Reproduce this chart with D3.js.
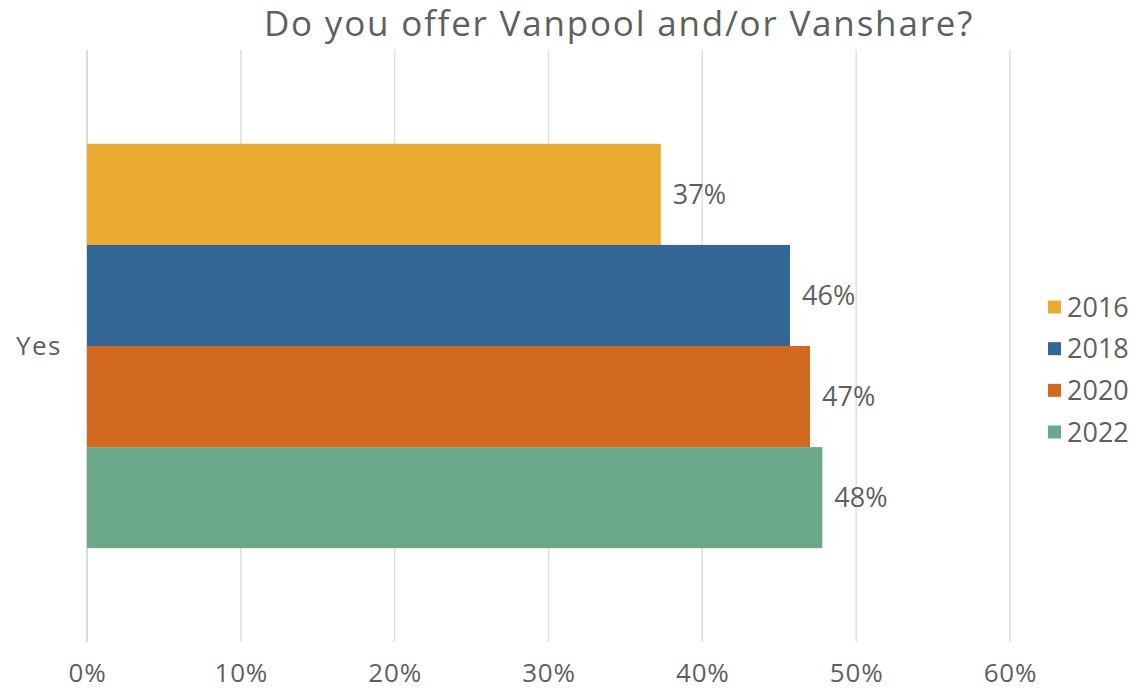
<!DOCTYPE html>
<html>
<head>
<meta charset="utf-8">
<script src="https://cdn.jsdelivr.net/npm/d3@7"></script>
<style>
  html, body { margin: 0; padding: 0; background: #fff; }
  svg { display: block; font-family: "Open Sans", sans-serif; }
</style>
</head>
<body>
<svg id="chart" width="1139" height="690"></svg>
<script>
// Survey question and response data
const title = "Do you offer Vanpool and/or Vanshare?";
const categories = ["Yes"];
const years = ["2016", "2018", "2020", "2022"];
const values = [0.373, 0.457, 0.470, 0.478];
const colors = ["#EBAA30", "#336896", "#D2691E", "#6CA98B"];
const tickValues = [0, 0.1, 0.2, 0.3, 0.4, 0.5, 0.6];

const svg = d3.select("#chart");
const textColor = "#5f5f5f";
const font = "'Open Sans', sans-serif";

const plot = { left: 87, right: 1010, top: 50, bottom: 642 };

const x = d3.scaleLinear().domain([0, 0.6]).range([plot.left, plot.right]);

const yCat = d3.scaleBand().domain(categories).range([plot.top, plot.bottom])
  .paddingInner(0).paddingOuter(0.232);
const ySeries = d3.scaleBand().domain(years).range([0, yCat.bandwidth()]).padding(0);

// Title
svg.append("text")
  .attr("x", 619).attr("y", 36)
  .attr("text-anchor", "middle")
  .attr("font-size", 35)
  .attr("letter-spacing", 1.8)
  .attr("fill", textColor)
  .text(title);

// Vertical gridlines
svg.append("g")
  .selectAll("line")
  .data(tickValues)
  .join("line")
  .attr("x1", d => x(d)).attr("x2", d => x(d))
  .attr("y1", plot.top).attr("y2", plot.bottom)
  .attr("stroke", d => d === 0 ? "#cfcfcf" : "#dedede")
  .attr("stroke-width", 1.5);

// Bottom axis labels
const xAxis = d3.axisBottom(x).tickValues(tickValues).tickFormat(d3.format(".0%")).tickSize(0).tickPadding(0);
const gx = svg.append("g").attr("transform", `translate(0, ${plot.bottom + 31})`).call(xAxis);
gx.select(".domain").remove();
gx.selectAll("text")
  .attr("font-size", 26)
  .attr("letter-spacing", 0.8)
  .attr("fill", textColor)
  .attr("font-family", font)
  .attr("dy", "0.35em");

// Category label
const yAxis = d3.axisLeft(yCat).tickSize(0).tickPadding(0);
const gy = svg.append("g").attr("transform", `translate(62, 0)`).call(yAxis);
gy.select(".domain").remove();
gy.selectAll("text")
  .attr("font-size", 26)
  .attr("letter-spacing", 1.5)
  .attr("fill", textColor)
  .attr("font-family", font)
  .attr("dy", "0.35em");

// Bars
const rows = years.map((yr, i) => ({ cat: categories[0], year: yr, value: values[i], color: colors[i] }));
const barG = svg.append("g");
barG.selectAll("rect")
  .data(rows)
  .join("rect")
  .attr("x", x(0))
  .attr("y", d => yCat(d.cat) + ySeries(d.year))
  .attr("width", d => x(d.value) - x(0))
  .attr("height", ySeries.bandwidth())
  .attr("fill", d => d.color);

// Value labels
barG.selectAll("text")
  .data(rows)
  .join("text")
  .attr("x", d => x(d.value) + 12)
  .attr("y", d => yCat(d.cat) + ySeries(d.year) + ySeries.bandwidth() / 2)
  .attr("dy", "0.35em")
  .attr("font-size", 27)
  .attr("fill", textColor)
  .text(d => d3.format(".0%")(d.value));

// Legend
const legend = svg.append("g").attr("transform", "translate(1048, 0)");
const legendY = d3.scalePoint().domain(years).range([307, 432]);
legend.selectAll("rect")
  .data(years)
  .join("rect")
  .attr("x", 0)
  .attr("y", d => legendY(d) - 6.5)
  .attr("width", 13).attr("height", 13)
  .attr("fill", (d, i) => colors[i]);
legend.selectAll("text")
  .data(years)
  .join("text")
  .attr("x", 19)
  .attr("y", d => legendY(d))
  .attr("dy", "0.36em")
  .attr("font-size", 27)
  .attr("fill", textColor)
  .text(d => d);
</script>
</body>
</html>
